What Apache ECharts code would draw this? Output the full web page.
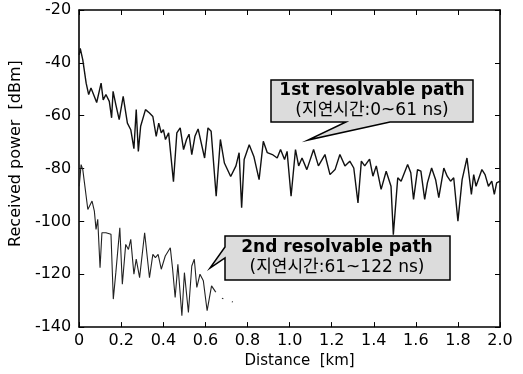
<!DOCTYPE html>
<html>
<head>
<meta charset="utf-8">
<script src="https://cdn.jsdelivr.net/npm/echarts@6/dist/echarts.min.js"></script>
<style>html,body{margin:0;padding:0;background:#fff;}#c{width:523px;height:374px;}</style>
</head>
<body>
<div id="c"></div>
<script>
// 1st resolvable path (delay 0~61 ns)
const dist1 = [0.000,0.005,0.017,0.033,0.045,0.056,0.072,0.083,0.104,0.114,0.127,0.143,0.154,0.161,0.174,0.190,0.209,0.229,0.245,0.260,0.271,0.281,0.292,0.315,0.334,0.350,0.366,0.378,0.390,0.400,0.410,0.425,0.448,0.464,0.480,0.496,0.510,0.522,0.535,0.550,0.565,0.574,0.596,0.612,0.627,0.651,0.671,0.690,0.720,0.745,0.760,0.772,0.784,0.808,0.830,0.855,0.875,0.894,0.918,0.941,0.957,0.976,0.988,1.007,1.028,1.043,1.059,1.082,1.114,1.137,1.168,1.192,1.216,1.239,1.263,1.286,1.305,1.325,1.341,1.357,1.380,1.396,1.412,1.435,1.459,1.482,1.493,1.514,1.530,1.561,1.576,1.589,1.608,1.624,1.642,1.655,1.675,1.694,1.709,1.733,1.749,1.765,1.780,1.800,1.820,1.843,1.864,1.875,1.886,1.914,1.929,1.945,1.961,1.973,1.984,2.000];
const power1 = [-37,-34.5,-38.9,-47.7,-52,-49.5,-52.7,-55,-47.7,-54,-52,-54.6,-60.8,-50.8,-55.8,-61.5,-52.7,-62.8,-65.3,-72.5,-57.7,-73.5,-64,-57.7,-59,-60.3,-67.8,-62.8,-66.5,-65.3,-69,-66.5,-85,-66.5,-64.6,-72.8,-69,-67,-74.7,-67.8,-65,-64.6,-76,-64.6,-65.9,-90.5,-69,-77.9,-83,-79,-74,-94.8,-76.6,-71,-75.4,-84.2,-69.7,-74,-74.7,-76,-72.8,-76.6,-73.5,-90.5,-72.8,-79,-76,-80.4,-72.8,-79,-74.7,-82.3,-80.4,-74.7,-79,-77.2,-79.8,-93,-77.2,-79,-76.4,-82.9,-79,-87.9,-81,-86.7,-105,-83.5,-84.8,-78.5,-81.6,-91.7,-80.4,-81,-91.7,-85.4,-79.8,-84.2,-91,-79.8,-82.9,-84.8,-83.5,-99.9,-84.2,-76,-89.8,-82.3,-86.7,-80.4,-82.3,-86.7,-84.8,-89.8,-85.4,-84.8];
// 2nd resolvable path (delay 61~122 ns)
const dist2 = [0.000,0.009,0.017,0.025,0.041,0.049,0.061,0.072,0.080,0.088,0.099,0.108,0.127,0.151,0.162,0.174,0.193,0.205,0.221,0.234,0.245,0.260,0.271,0.287,0.311,0.334,0.350,0.362,0.375,0.390,0.409,0.433,0.444,0.456,0.469,0.488,0.500,0.519,0.535,0.547,0.559,0.574,0.590,0.608,0.629,0.645];
const power2 = [-86.7,-78.5,-80.4,-85.4,-95.5,-96.1,-92.3,-96.1,-103,-99.2,-117.5,-104.3,-104.3,-104.9,-129.4,-119.4,-102.4,-123.8,-108.7,-110.6,-106.8,-120,-114.3,-121.3,-104.3,-121.3,-112.5,-113.7,-112.5,-118.1,-113.1,-110,-118.1,-128.8,-116.2,-135.7,-119.4,-134.5,-116.9,-114.3,-125,-120,-122.5,-133.8,-124.4,-126.3];
// sparse dotted tail of the 2nd path
const dist2Tail = [0.645,0.668,0.730];
const power2Tail = [-126.3,-128.8,-130.5];

const xTicks = ['0','0.2','0.4','0.6','0.8','1.0','1.2','1.4','1.6','1.8','2.0'];
const yTicks = ['-140','-120','-100','-80','-60','-40','-20'];
const label1 = ['1st resolvable path', '(지연시간:0~61 ns)'];
const label2 = ['2nd resolvable path', '(지연시간:61~122 ns)'];

const FONT = '"DejaVu Sans", "Noto Sans CJK KR", sans-serif';
const pairs = (xs, ys) => xs.map((x, i) => [x, ys[i]]);

const chart = echarts.init(document.getElementById('c'), null, {renderer: 'canvas'});
const axisCommon = {
  axisLine: {show: true, onZero: false, lineStyle: {color: '#000', width: 1.6}},
  axisTick: {show: true, inside: true, length: 5, lineStyle: {color: '#000', width: 1}},
  splitLine: {show: false}
};
chart.setOption({
  animation: false,
  backgroundColor: '#fff',
  grid: {left: 75, right: 23, top: 10, bottom: 46, containLabel: false},
  xAxis: [
    Object.assign({
      type: 'value', min: 0, max: 2, interval: 0.2, position: 'bottom',
      name: 'Distance  [km]', nameLocation: 'middle', nameGap: 26,
      nameTextStyle: {fontFamily: FONT, fontSize: 15, color: '#000', padding: [0, 0, 0, 20]},
      axisLabel: {fontFamily: FONT, fontSize: 16, color: '#000', margin: 6,
        formatter: (v) => xTicks[Math.round(v / 0.2)]}
    }, axisCommon),
    Object.assign({type: 'value', min: 0, max: 2, interval: 0.2, position: 'top', axisLabel: {show: false}}, axisCommon)
  ],
  yAxis: [
    Object.assign({
      type: 'value', min: -140, max: -20, interval: 20, position: 'left',
      name: 'Received power  [dBm]', nameLocation: 'middle', nameGap: 46,
      nameTextStyle: {fontFamily: FONT, fontSize: 16, color: '#000', padding: [0, 0, 0, 30]},
      axisLabel: {fontFamily: FONT, fontSize: 16, color: '#000', margin: 8,
        formatter: (v) => yTicks[Math.round((v + 140) / 20)]}
    }, axisCommon),
    Object.assign({type: 'value', min: -140, max: -20, interval: 20, position: 'right', axisLabel: {show: false}}, axisCommon)
  ],
  series: [
    {type: 'line', name: label1[0], data: pairs(dist1, power1), symbol: 'none',
      lineStyle: {color: '#111', width: 1.4}, z: 2},
    {type: 'line', name: label2[0], data: pairs(dist2, power2), symbol: 'none',
      lineStyle: {color: '#222', width: 1.1}, z: 2},
    {type: 'line', name: label2[0] + ' tail', data: pairs(dist2Tail, power2Tail), symbol: 'none',
      lineStyle: {color: '#333', width: 1.3, type: [1.5, 9]}, z: 2}
  ],
  graphic: [
    {type: 'polygon', z: 10, shape: {points: [[271,80],[473,80],[473,122],[390,122],[308,140],[346,122],[271,122]]},
      style: {fill: '#dcdcdc', stroke: '#000', lineWidth: 1.5}},
    {type: 'text', z: 11, x: 372, y: 91, style: {text: label1[0], font: 'bold 17px ' + FONT, fill: '#000', align: 'center', verticalAlign: 'middle'}},
    {type: 'text', z: 11, x: 372, y: 111, style: {text: label1[1], font: '17px ' + FONT, fill: '#000', align: 'center', verticalAlign: 'middle'}},
    {type: 'polygon', z: 10, shape: {points: [[225,236],[450,236],[450,280],[225,280],[225,258],[210,268],[225,247]]},
      style: {fill: '#dcdcdc', stroke: '#000', lineWidth: 1.5}},
    {type: 'text', z: 11, x: 337, y: 248, style: {text: label2[0], font: 'bold 17px ' + FONT, fill: '#000', align: 'center', verticalAlign: 'middle'}},
    {type: 'text', z: 11, x: 337, y: 268, style: {text: label2[1], font: '17px ' + FONT, fill: '#000', align: 'center', verticalAlign: 'middle'}}
  ]
});
</script>
</body>
</html>
